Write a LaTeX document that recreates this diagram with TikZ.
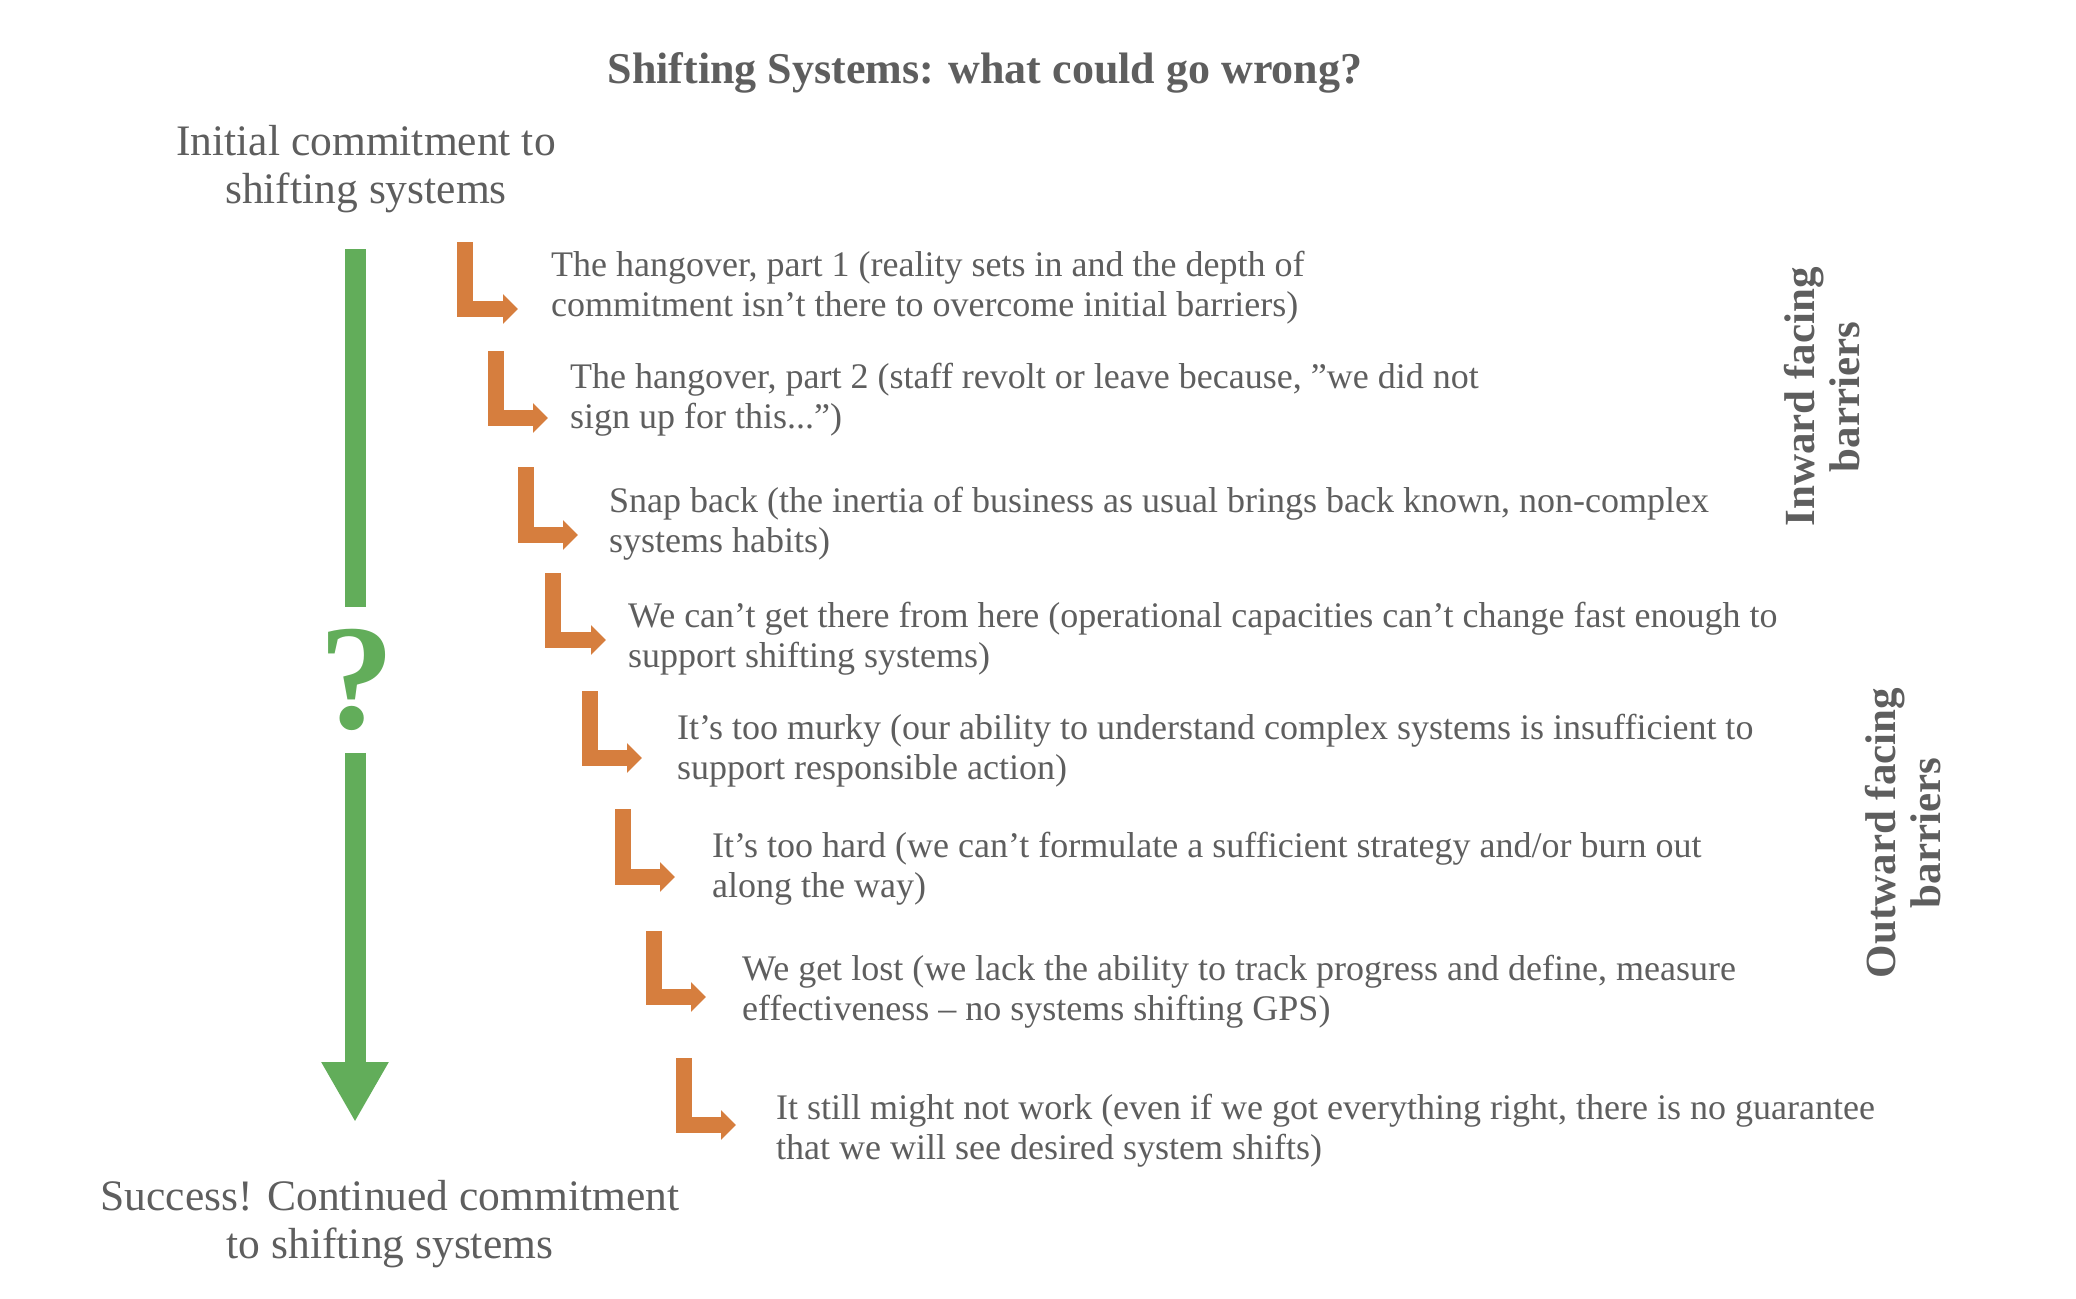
\documentclass[tikz,border=0pt]{standalone}
\usepackage{fontspec}
\setmainfont{Liberation Serif}
\usetikzlibrary{arrows.meta}
\definecolor{txtgray}{RGB}{94,94,94}
\definecolor{barorange}{RGB}{214,126,62}
\definecolor{flowgreen}{RGB}{98,173,90}
\begin{document}
\begin{tikzpicture}[x=1pt,y=-1pt,
    item/.style={anchor=west,align=left,inner sep=0pt,text=txtgray,font=\fontsize{36}{40}\selectfont},
    ends/.style={align=center,inner sep=0pt,text=txtgray,font=\fontsize{43.5}{48}\selectfont},
    side/.style={rotate=90,align=center,inner sep=0pt,text=txtgray,font=\bfseries\fontsize{43}{45}\selectfont},
    lbend/.style={draw=barorange,line width=16pt,-{Triangle[length=15pt,width=29pt]}},
    flow/.style={draw=flowgreen,line width=21pt}]
  \useasboundingbox (0,0) rectangle (2076,1298);

  \node[inner sep=0pt,text=txtgray,font=\bfseries\fontsize{44}{48}\selectfont] (title) at (985,73) {Shifting Systems: what could go wrong?};
  \node[ends] (start) at (366,169) {Initial commitment to\\shifting systems};
  \node[ends] (goal) at (390,1224) {Success! Continued commitment\\to shifting systems};

  % green flow with the question mark
  \coordinate (gtop) at (355,249);
  \coordinate (gend) at (355,1122);
  \node[inner sep=22pt,text=flowgreen,font=\bfseries\fontsize{150}{150}\selectfont] (q) at (357,680) {?};
  \path[flow] (gtop) -- (q.north -| gtop);
  \path[flow,-{Triangle[length=60pt,width=63pt]}] (q.south -| gend) -- (gend);

  % barriers
  \coordinate (h1) at (465,242);   \coordinate (e1) at (518,309);
  \coordinate (h2) at (495.5,351); \coordinate (e2) at (548,418);
  \coordinate (h3) at (526,467);   \coordinate (e3) at (578,535);
  \coordinate (h4) at (552.5,573); \coordinate (e4) at (606,640);
  \coordinate (h5) at (589.5,691); \coordinate (e5) at (642,758);
  \coordinate (h6) at (622.5,809); \coordinate (e6) at (675,877);
  \coordinate (h7) at (653.5,931); \coordinate (e7) at (706,997);
  \coordinate (h8) at (683.5,1058);\coordinate (e8) at (736,1125);

  \path[lbend] (h1) |- (e1);
  \path[lbend] (h2) |- (e2);
  \path[lbend] (h3) |- (e3);
  \path[lbend] (h4) |- (e4);
  \path[lbend] (h5) |- (e5);
  \path[lbend] (h6) |- (e6);
  \path[lbend] (h7) |- (e7);
  \path[lbend] (h8) |- (e8);

  \node[item] (t1) at (551,288) {The hangover, part 1 (reality sets in and the depth of\\commitment isn't there to overcome initial barriers)};
  \node[item] (t2) at (570,400) {The hangover, part 2 (staff revolt or leave because, ”we did not\\sign up for this...”)};
  \node[item] (t3) at (609,524) {Snap back (the inertia of business as usual brings back known, non-complex\\systems habits)};
  \node[item] (t4) at (628,639) {We can't get there from here (operational capacities can't change fast enough to\\support shifting systems)};
  \node[item] (t5) at (677,751) {It's too murky (our ability to understand complex systems is insufficient to\\support responsible action)};
  \node[item] (t6) at (712,869) {It's too hard (we can't formulate a sufficient strategy and/or burn out\\along the way)};
  \node[item] (t7) at (742,992) {We get lost (we lack the ability to track progress and define, measure\\effectiveness -- no systems shifting GPS)};
  \node[item] (t8) at (776,1131) {It still might not work (even if we got everything right, there is no guarantee\\that we will see desired system shifts)};

  \node[side] (inward) at (1822,397) {Inward facing\\barriers};
  \node[side] (outward) at (1903,833) {Outward facing\\barriers};
\end{tikzpicture}
\end{document}
